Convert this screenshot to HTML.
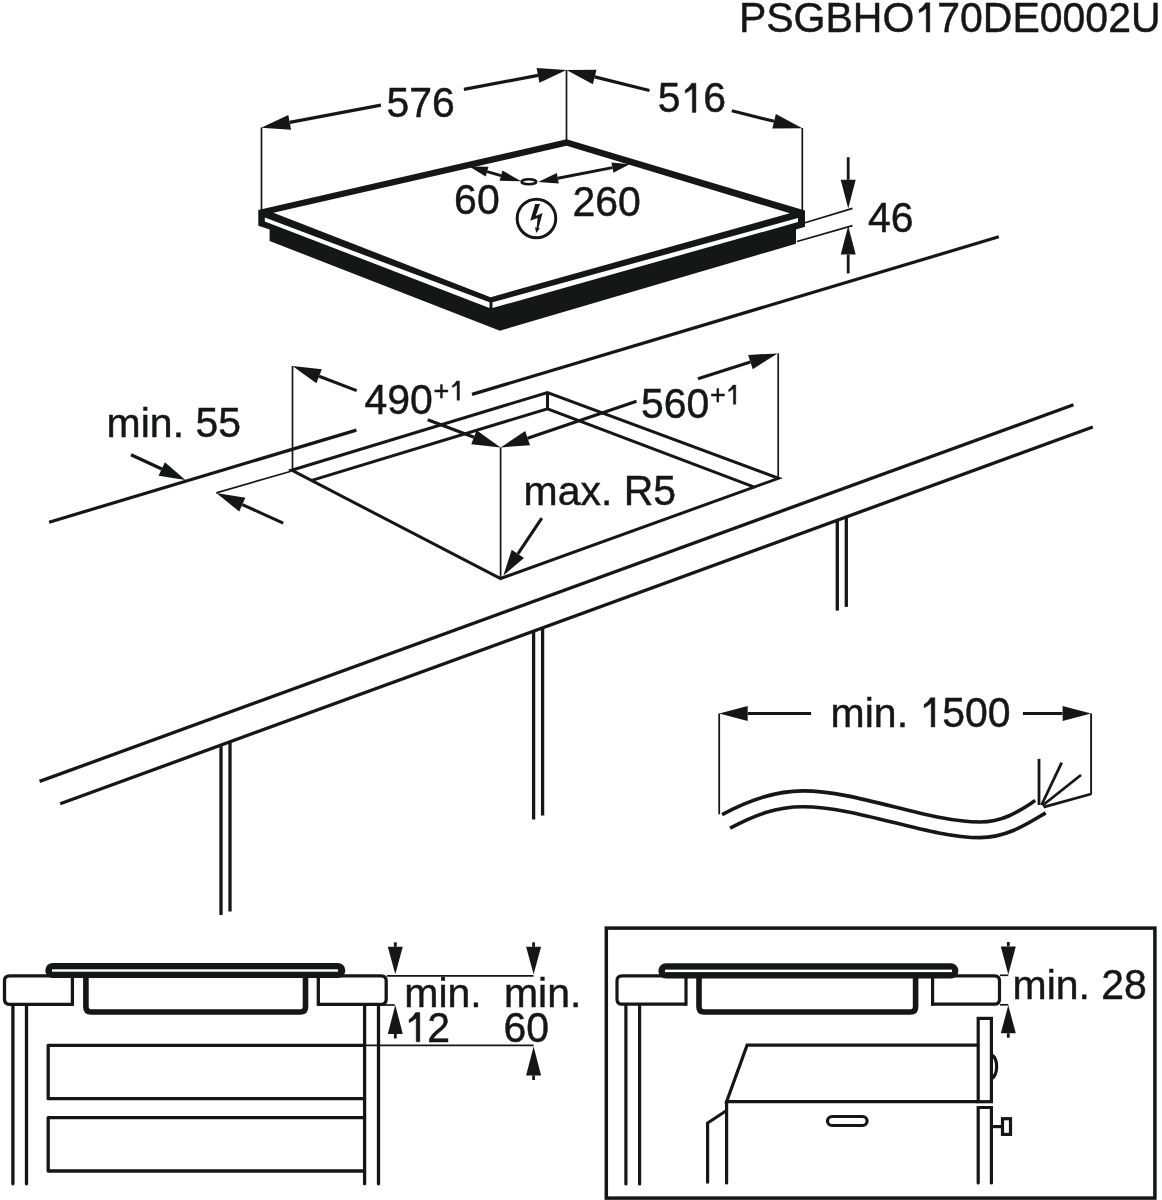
<!DOCTYPE html>
<html><head><meta charset="utf-8"><style>
html,body{margin:0;padding:0;background:#fff;width:1162px;height:1200px;overflow:hidden}
svg{display:block;will-change:transform}
text{font-kerning:none;font-family:"Liberation Sans",sans-serif;fill:#151716;stroke:#151716;stroke-width:0.45px}
</style></head><body>
<svg width="1162" height="1200" viewBox="0 0 1162 1200">
<rect width="1162" height="1200" fill="#fff"/>
<text transform="translate(738.9,32) scale(1,1.035)" font-size="41">PSGBHO</text>
<path transform="translate(914.4,32) scale(0.02002,-0.02072)" d="M590,0 L590,1150 Q430,1010 235,925 L235,1080 Q430,1180 560,1409 L770,1409 L770,0 Z" fill="#151716" stroke="#151716" stroke-width="22.48"/>
<text transform="translate(937.2,32) scale(1,1.035)" font-size="41">70DE0002U</text>
<polygon points="258.3,210 566.6,139.2 805,210.5 805,226.7 796,229.5 796,243.7 499.9,330.7 269.6,241 269.6,229.6 258.3,225.8" fill="#151716"/>
<polygon points="273.4,212.8 566.6,145.8 789.8,213.2 490.6,297.2" fill="#fff"/>
<polygon points="264.8,217.6 489.5,302.3 489.5,308 264.8,221.4" fill="#fff"/>
<polygon points="798,218 492.5,302.3 492.5,308 798,222" fill="#fff"/>
<line x1="261.5" y1="127.5" x2="261.5" y2="210.5" stroke="#151716" stroke-width="1.7" stroke-linecap="butt"/>
<line x1="566.5" y1="70" x2="566.5" y2="141" stroke="#151716" stroke-width="1.7" stroke-linecap="butt"/>
<line x1="802.3" y1="128" x2="802.3" y2="211" stroke="#151716" stroke-width="1.7" stroke-linecap="butt"/>
<polygon points="261.2,127.8 288.3,115 291.1,129.8" fill="#151716"/>
<polygon points="566.5,70 539.4,82.8 536.6,68" fill="#151716"/>
<line x1="289.7" y1="122.4" x2="380.9" y2="105.1" stroke="#151716" stroke-width="3.2" stroke-linecap="butt"/>
<line x1="463.9" y1="89.4" x2="538" y2="75.4" stroke="#151716" stroke-width="3.2" stroke-linecap="butt"/>
<polygon points="566.5,70 596.5,69.7 592.9,84.2" fill="#151716"/>
<polygon points="802.3,128.2 772.3,128.5 775.9,114" fill="#151716"/>
<line x1="594.7" y1="76.9" x2="649.5" y2="90.5" stroke="#151716" stroke-width="3.2" stroke-linecap="butt"/>
<line x1="731.8" y1="110.8" x2="774.1" y2="121.3" stroke="#151716" stroke-width="3.2" stroke-linecap="butt"/>
<text transform="translate(386.4,116.6) scale(1,1.035)" font-size="41">576</text>
<text transform="translate(657.7,112.4) scale(1,1.035)" font-size="41">5</text>
<path transform="translate(680.5,112.4) scale(0.02002,-0.02072)" d="M590,0 L590,1150 Q430,1010 235,925 L235,1080 Q430,1180 560,1409 L770,1409 L770,0 Z" fill="#151716" stroke="#151716" stroke-width="22.48"/>
<text transform="translate(703.3,112.4) scale(1,1.035)" font-size="41">6</text>
<polygon points="848.2,208.4 840.7,179.8 855.7,179.8" fill="#151716"/>
<line x1="848.2" y1="157.2" x2="848.2" y2="179.8" stroke="#151716" stroke-width="2.8" stroke-linecap="butt"/>
<polygon points="848.2,226 855.7,254.6 840.7,254.6" fill="#151716"/>
<line x1="848.2" y1="273.4" x2="848.2" y2="254.6" stroke="#151716" stroke-width="2.8" stroke-linecap="butt"/>
<line x1="805" y1="222.8" x2="852.5" y2="208.4" stroke="#151716" stroke-width="1.7" stroke-linecap="butt"/>
<line x1="797" y1="241.5" x2="852.5" y2="225.6" stroke="#151716" stroke-width="1.7" stroke-linecap="butt"/>
<text transform="translate(868,231.8) scale(1,1.035)" font-size="41">46</text>
<ellipse cx="528.9" cy="181.7" rx="7.3" ry="2.5" fill="none" stroke="#151716" stroke-width="2.6"/>
<polygon points="469.3,166.6 488.5,166.8 485.7,176.5" fill="#151716"/>
<polygon points="521.2,181.3 499.6,180.7 502.4,170.5" fill="#151716"/>
<line x1="487.1" y1="171.6" x2="501" y2="175.6" stroke="#151716" stroke-width="3" stroke-linecap="butt"/>
<polygon points="538.2,182.1 556.8,173.1 558.8,183.5" fill="#151716"/>
<polygon points="629.6,164.3 613.4,172.8 611.4,162.4" fill="#151716"/>
<line x1="557.8" y1="178.3" x2="612.4" y2="167.6" stroke="#151716" stroke-width="3" stroke-linecap="butt"/>
<text transform="translate(454.1,214) scale(1,1.035)" font-size="41">60</text>
<text transform="translate(572.5,215.5) scale(1,1.035)" font-size="41">260</text>
<circle cx="536.45" cy="218.45" r="19.3" fill="none" stroke="#151716" stroke-width="3.0"/>
<polygon points="535.2,204 540,204 535.7,215.9 542.6,213.1 538.5,228 539.9,228 536.3,233.1 535,227.4 536.7,227.6 537.6,218.1 530.2,220.7" fill="#151716"/>
<line x1="49.1" y1="522.2" x2="356.4" y2="430.1" stroke="#151716" stroke-width="3.2" stroke-linecap="butt"/>
<line x1="472" y1="394.4" x2="998.8" y2="236.8" stroke="#151716" stroke-width="3.2" stroke-linecap="butt"/>
<line x1="39.6" y1="781.4" x2="1073.5" y2="404.7" stroke="#151716" stroke-width="3.3" stroke-linecap="butt"/>
<line x1="60.2" y1="803.8" x2="1092.8" y2="427" stroke="#151716" stroke-width="3.3" stroke-linecap="butt"/>
<line x1="221" y1="746.3" x2="221" y2="915" stroke="#151716" stroke-width="3.3" stroke-linecap="butt"/>
<line x1="230" y1="743" x2="230" y2="911.5" stroke="#151716" stroke-width="3.3" stroke-linecap="butt"/>
<line x1="533.6" y1="631.6" x2="533.6" y2="819.5" stroke="#151716" stroke-width="3.3" stroke-linecap="butt"/>
<line x1="542.6" y1="628.8" x2="542.6" y2="815.6" stroke="#151716" stroke-width="3.3" stroke-linecap="butt"/>
<line x1="837.3" y1="520.2" x2="837.3" y2="610.6" stroke="#151716" stroke-width="3.3" stroke-linecap="butt"/>
<line x1="846.3" y1="517.9" x2="846.3" y2="606.9" stroke="#151716" stroke-width="3.3" stroke-linecap="butt"/>
<polygon points="291.6,470.2 547.5,392.5 778.5,478.3 500.6,578.5" fill="none" stroke="#151716" stroke-width="3" stroke-linejoin="miter" stroke-miterlimit="10"/>
<line x1="547.5" y1="392.5" x2="547.5" y2="408.8" stroke="#151716" stroke-width="3" stroke-linecap="butt"/>
<polyline points="311,480.6 547.5,408.8 755,487.3" fill="none" stroke="#151716" stroke-width="3" stroke-linejoin="miter" stroke-linecap="butt"/>
<line x1="292.5" y1="366" x2="292.5" y2="469.8" stroke="#151716" stroke-width="1.7" stroke-linecap="butt"/>
<line x1="778.2" y1="353.4" x2="778.2" y2="477.5" stroke="#151716" stroke-width="1.7" stroke-linecap="butt"/>
<line x1="500.6" y1="447.4" x2="500.6" y2="578.5" stroke="#151716" stroke-width="1.7" stroke-linecap="butt"/>
<polygon points="292.5,366 321.8,369.2 316.4,383.2" fill="#151716"/>
<line x1="356.7" y1="390.6" x2="319.1" y2="376.2" stroke="#151716" stroke-width="3.1" stroke-linecap="butt"/>
<polygon points="777.6,353.4 752.7,369.2 748.2,354.9" fill="#151716"/>
<line x1="698" y1="378.8" x2="750.4" y2="362.1" stroke="#151716" stroke-width="3.1" stroke-linecap="butt"/>
<polygon points="500.6,447.4 471.3,444.3 476.6,430.3" fill="#151716"/>
<line x1="427.7" y1="419.7" x2="474" y2="437.3" stroke="#151716" stroke-width="3.1" stroke-linecap="butt"/>
<polygon points="500.6,447.4 525.2,431.1 530,445.3" fill="#151716"/>
<line x1="636.5" y1="401.3" x2="527.6" y2="438.2" stroke="#151716" stroke-width="3.1" stroke-linecap="butt"/>
<text transform="translate(364.4,413.5) scale(1,1.035)" font-size="41">490</text>
<text transform="translate(433.6,400.2) scale(1,1.035)" font-size="27">+</text>
<path transform="translate(449.3,400.2) scale(0.01318,-0.01365)" d="M590,0 L590,1150 Q430,1010 235,925 L235,1080 Q430,1180 560,1409 L770,1409 L770,0 Z" fill="#151716" stroke="#151716" stroke-width="34.13"/>
<text transform="translate(641,418.3) scale(1,1.035)" font-size="41">560</text>
<text transform="translate(709.9,404.3) scale(1,1.035)" font-size="27">+</text>
<path transform="translate(725.6,404.3) scale(0.01318,-0.01365)" d="M590,0 L590,1150 Q430,1010 235,925 L235,1080 Q430,1180 560,1409 L770,1409 L770,0 Z" fill="#151716" stroke="#151716" stroke-width="34.13"/>
<text transform="translate(523.5,504.7) scale(1,0.97)" font-size="41">max.</text>
<text transform="translate(623.7,504.7) scale(1,1.035)" font-size="41">R5</text>
<polygon points="503.4,575.5 511.7,549.8 524,558" fill="#151716"/>
<line x1="541.8" y1="518.1" x2="517.9" y2="553.9" stroke="#151716" stroke-width="3.1" stroke-linecap="butt"/>
<text transform="translate(106.6,437.1) scale(1,0.97)" font-size="41">min.</text>
<text transform="translate(195.4,437.1) scale(1,1.035)" font-size="41">55</text>
<polygon points="185.4,479.9 158.6,475.8 164.9,462.2" fill="#151716"/>
<line x1="131" y1="454.8" x2="161.8" y2="469" stroke="#151716" stroke-width="3.3" stroke-linecap="butt"/>
<line x1="216.3" y1="492.9" x2="291.1" y2="471.2" stroke="#151716" stroke-width="1.7" stroke-linecap="butt"/>
<polygon points="216.3,492.9 245.4,497.8 239.2,511.5" fill="#151716"/>
<line x1="283.2" y1="523.1" x2="242.3" y2="504.6" stroke="#151716" stroke-width="3.1" stroke-linecap="butt"/>
<line x1="719.2" y1="713.5" x2="719.2" y2="814.3" stroke="#151716" stroke-width="1.8" stroke-linecap="butt"/>
<line x1="1091.1" y1="713.5" x2="1091.1" y2="794.5" stroke="#151716" stroke-width="1.9" stroke-linecap="butt"/>
<polygon points="719.2,713.5 747.7,706 747.7,721" fill="#151716"/>
<line x1="811.1" y1="713.5" x2="747.7" y2="713.5" stroke="#151716" stroke-width="3.1" stroke-linecap="butt"/>
<polygon points="1091.1,713.5 1062.6,721 1062.6,706" fill="#151716"/>
<line x1="1022.9" y1="713.5" x2="1062.6" y2="713.5" stroke="#151716" stroke-width="3.1" stroke-linecap="butt"/>
<text transform="translate(830.6,726.9) scale(1,0.97)" font-size="41">min.</text>
<path transform="translate(919.4,726.9) scale(0.02002,-0.02072)" d="M590,0 L590,1150 Q430,1010 235,925 L235,1080 Q430,1180 560,1409 L770,1409 L770,0 Z" fill="#151716" stroke="#151716" stroke-width="22.48"/>
<text transform="translate(942.2,726.9) scale(1,1.035)" font-size="41">500</text>
<path d="M722.1,814.6 C749,800 776,790.9 803,790.9 C858,790.9 928,822 980,822 C1005,822 1021,809.6 1035.2,800.6" fill="none" stroke="#151716" stroke-width="3.6"/>
<path d="M730.1,828.1 C755,815 776,806.7 803,806.7 C858,806.7 928,837.6 980,837.6 C1008,837.6 1030,822 1045.7,812.9" fill="none" stroke="#151716" stroke-width="3.6"/>
<line x1="1039" y1="758.9" x2="1039" y2="805" stroke="#151716" stroke-width="2.8" stroke-linecap="butt"/>
<line x1="1061.7" y1="762.7" x2="1041.5" y2="805" stroke="#151716" stroke-width="2.8" stroke-linecap="butt"/>
<line x1="1081" y1="775" x2="1042.5" y2="805.5" stroke="#151716" stroke-width="2.8" stroke-linecap="butt"/>
<line x1="1091.1" y1="794" x2="1043.5" y2="807.2" stroke="#151716" stroke-width="2.8" stroke-linecap="butt"/>
<path d="M73.3,1004.3 H9.5 Q4.5,1004.3 4.5,999.3 V980.8 Q4.5,975.8 9.5,975.8 H73.3" fill="none" stroke="#151716" stroke-width="3.3"/>
<line x1="72.4" y1="975.8" x2="72.4" y2="1005.7" stroke="#151716" stroke-width="3.3" stroke-linecap="butt"/>
<path d="M317.4,1004.3 H381.2 Q386.2,1004.3 386.2,999.3 V980.8 Q386.2,975.8 381.2,975.8 H317.4" fill="none" stroke="#151716" stroke-width="3.3"/>
<line x1="318.3" y1="975.8" x2="318.3" y2="1005.7" stroke="#151716" stroke-width="3.3" stroke-linecap="butt"/>
<path d="M85.9,975 V1007 Q85.9,1012 90.9,1012 H300.5 Q305.5,1012 305.5,1007 V975" fill="none" stroke="#151716" stroke-width="5.6"/>
<rect x="45.3" y="962.9" width="300" height="15.1" rx="7.5" fill="#151716"/>
<rect x="52" y="969.3" width="286" height="2.4" fill="#fff"/>
<line x1="12.9" y1="1005.7" x2="12.9" y2="1183.8" stroke="#151716" stroke-width="3.3" stroke-linecap="round"/>
<line x1="26.5" y1="1005.7" x2="26.5" y2="1183.8" stroke="#151716" stroke-width="3.3" stroke-linecap="round"/>
<line x1="364.6" y1="1005.7" x2="364.6" y2="1183.8" stroke="#151716" stroke-width="3.3" stroke-linecap="round"/>
<line x1="378.5" y1="1005.7" x2="378.5" y2="1183.8" stroke="#151716" stroke-width="3.3" stroke-linecap="round"/>
<polyline points="364.6,1045.3 48.2,1045.3 48.2,1098.7 364.6,1098.7" fill="none" stroke="#151716" stroke-width="3.3" stroke-linejoin="round" stroke-linecap="butt"/>
<polyline points="364.6,1117.6 48.2,1117.6 48.2,1171 364.6,1171" fill="none" stroke="#151716" stroke-width="3.3" stroke-linejoin="round" stroke-linecap="butt"/>
<line x1="364.6" y1="1045.3" x2="533.6" y2="1045.3" stroke="#151716" stroke-width="1.7" stroke-linecap="butt"/>
<line x1="387" y1="975.9" x2="533.6" y2="975.9" stroke="#151716" stroke-width="1.7" stroke-linecap="butt"/>
<line x1="380.3" y1="1005" x2="394.8" y2="1005" stroke="#151716" stroke-width="1.7" stroke-linecap="butt"/>
<polygon points="395.3,974.3 387.8,946.8 402.8,946.8" fill="#151716"/>
<line x1="395.3" y1="942.3" x2="395.3" y2="946.8" stroke="#151716" stroke-width="2.8" stroke-linecap="butt"/>
<polygon points="395.3,1005 402.8,1034 387.8,1034" fill="#151716"/>
<line x1="395.3" y1="1038.5" x2="395.3" y2="1034" stroke="#151716" stroke-width="2.8" stroke-linecap="butt"/>
<polygon points="533.6,974.3 526.1,946.8 541.1,946.8" fill="#151716"/>
<line x1="533.6" y1="942.3" x2="533.6" y2="946.8" stroke="#151716" stroke-width="2.8" stroke-linecap="butt"/>
<polygon points="533.6,1046.4 541.1,1075.4 526.1,1075.4" fill="#151716"/>
<line x1="533.6" y1="1080" x2="533.6" y2="1075.4" stroke="#151716" stroke-width="2.8" stroke-linecap="butt"/>
<text transform="translate(404.3,1007.2) scale(1,0.97)" font-size="41">min.</text>
<path transform="translate(404.4,1041.8) scale(0.02002,-0.02072)" d="M590,0 L590,1150 Q430,1010 235,925 L235,1080 Q430,1180 560,1409 L770,1409 L770,0 Z" fill="#151716" stroke="#151716" stroke-width="22.48"/>
<text transform="translate(427.2,1041.8) scale(1,1.035)" font-size="41">2</text>
<text transform="translate(503.9,1007.2) scale(1,0.97)" font-size="41">min.</text>
<text transform="translate(503.4,1041.9) scale(1,1.035)" font-size="41">60</text>
<rect x="606.3" y="928.1" width="548.6" height="270" fill="none" stroke="#151716" stroke-width="3.5"/>
<path d="M687,1004.2 H622 Q617,1004.2 617,999.2 V980.8 Q617,975.8 622,975.8 H687" fill="none" stroke="#151716" stroke-width="3.2"/>
<line x1="686" y1="975.8" x2="686" y2="1005.6" stroke="#151716" stroke-width="3.2" stroke-linecap="butt"/>
<path d="M931.2,1004.2 H994.5 Q999.5,1004.2 999.5,999.2 V980.8 Q999.5,975.8 994.5,975.8 H931.2" fill="none" stroke="#151716" stroke-width="3.2"/>
<line x1="932.6" y1="975.8" x2="932.6" y2="1005.6" stroke="#151716" stroke-width="3.2" stroke-linecap="butt"/>
<path d="M699,975 V1007 Q699,1012 704,1012 H910.6 Q915.6,1012 915.6,1007 V975" fill="none" stroke="#151716" stroke-width="5.6"/>
<rect x="658.4" y="963.2" width="300" height="15.2" rx="7.5" fill="#151716"/>
<rect x="665" y="969.6" width="287" height="2.5" fill="#fff"/>
<line x1="625.9" y1="1005.6" x2="625.9" y2="1184" stroke="#151716" stroke-width="3.2" stroke-linecap="round"/>
<line x1="639.6" y1="1005.6" x2="639.6" y2="1184" stroke="#151716" stroke-width="3.2" stroke-linecap="round"/>
<line x1="1000" y1="975.3" x2="1008.3" y2="975.3" stroke="#151716" stroke-width="1.7" stroke-linecap="butt"/>
<line x1="1000" y1="1004.8" x2="1008.3" y2="1004.8" stroke="#151716" stroke-width="1.7" stroke-linecap="butt"/>
<polygon points="1008.3,974.4 1000.8,946.4 1015.8,946.4" fill="#151716"/>
<line x1="1008.3" y1="942" x2="1008.3" y2="946.4" stroke="#151716" stroke-width="2.8" stroke-linecap="butt"/>
<polygon points="1008.3,1005.3 1015.8,1033.3 1000.8,1033.3" fill="#151716"/>
<line x1="1008.3" y1="1037.7" x2="1008.3" y2="1033.3" stroke="#151716" stroke-width="2.8" stroke-linecap="butt"/>
<text transform="translate(1012.5,998.9) scale(1,0.97)" font-size="41">min.</text>
<text transform="translate(1101.3,998.9) scale(1,1.035)" font-size="41">28</text>
<polyline points="978.2,1045.2 747.1,1045.2 726.6,1101.7 978.2,1101.7" fill="none" stroke="#151716" stroke-width="3.2" stroke-linejoin="miter" stroke-linecap="butt"/>
<line x1="726.6" y1="1101.7" x2="726.6" y2="1183" stroke="#151716" stroke-width="3.2" stroke-linecap="round"/>
<polyline points="726.6,1110.5 707.6,1123 707.6,1182.2" fill="none" stroke="#151716" stroke-width="3.2" stroke-linejoin="miter" stroke-linecap="round"/>
<rect x="827.5" y="1116.5" width="39.6" height="9" rx="4.5" fill="none" stroke="#151716" stroke-width="3.2"/>
<rect x="978.2" y="1018.4" width="13.2" height="83.3" fill="none" stroke="#151716" stroke-width="3.2"/>
<path d="M991.4,1055 A5.8,11.7 0 0 1 991.4,1078.3" fill="none" stroke="#151716" stroke-width="3.2"/>
<polyline points="978.2,1183 978.2,1107.5 991.4,1107.5 991.4,1183" fill="none" stroke="#151716" stroke-width="3.2" stroke-linejoin="miter" stroke-linecap="round"/>
<line x1="991.4" y1="1126.6" x2="1001.6" y2="1126.6" stroke="#151716" stroke-width="3.2" stroke-linecap="butt"/>
<rect x="1002.5" y="1118.7" width="8" height="15.7" fill="none" stroke="#151716" stroke-width="3.2"/>
</svg>
</body></html>
